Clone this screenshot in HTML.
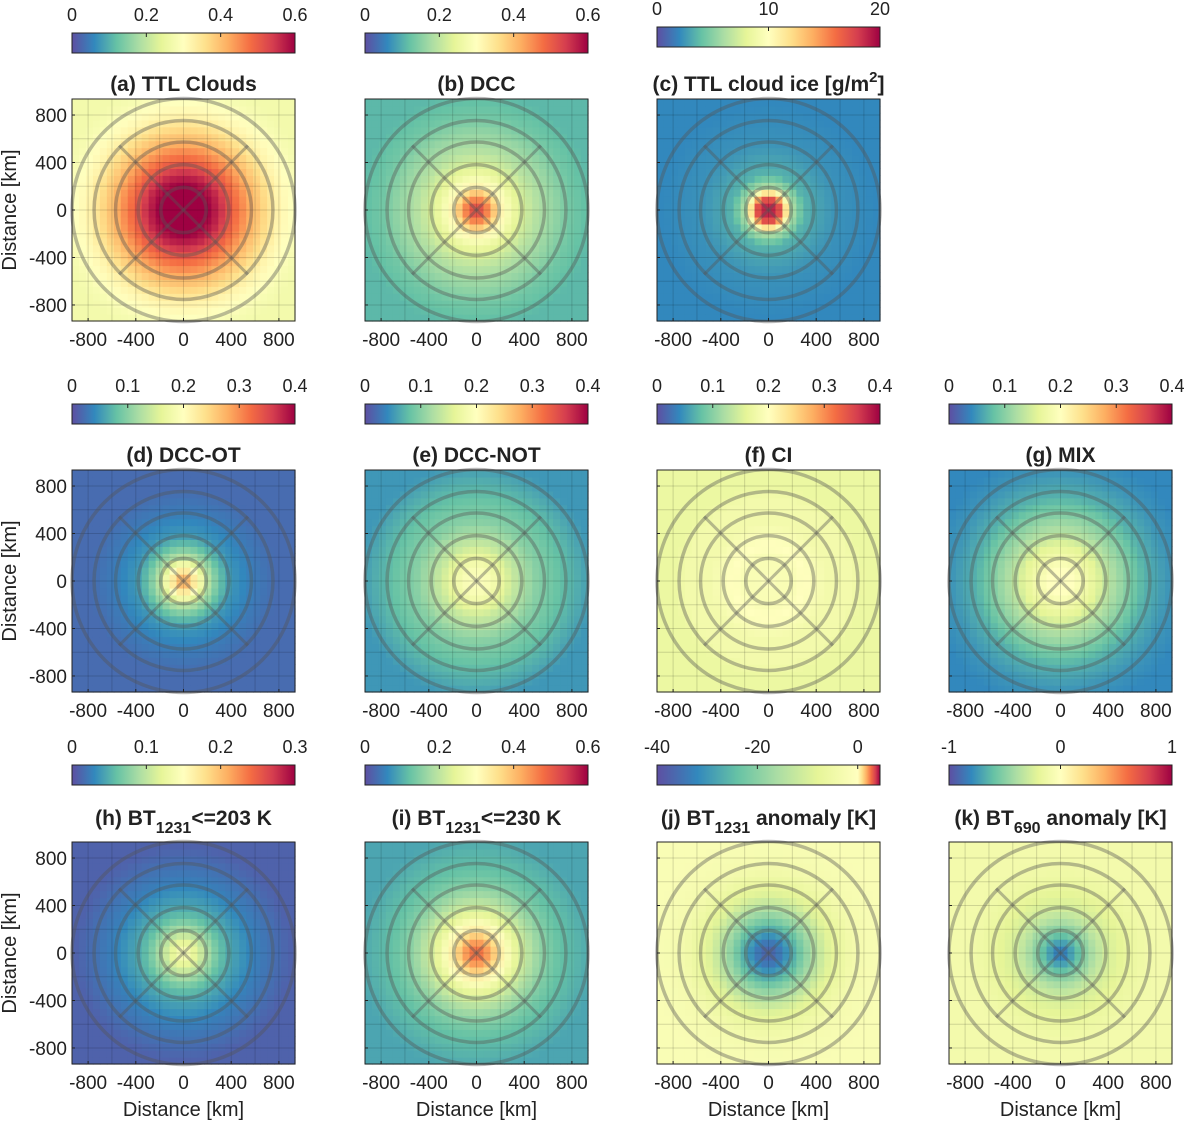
<!DOCTYPE html>
<html><head><meta charset="utf-8"><style>
body{margin:0;background:#fff}
svg text{font-family:"Liberation Sans",sans-serif;fill:#222}
</style></head><body>
<svg id="fig" width="1184" height="1122" viewBox="0 0 1184 1122" xmlns="http://www.w3.org/2000/svg">
<defs>
<linearGradient id="spec" x1="0" x2="1" y1="0" y2="0">
<stop offset="0" stop-color="#5e4fa2"/><stop offset="0.1" stop-color="#3288bd"/><stop offset="0.2" stop-color="#66c2a5"/><stop offset="0.3" stop-color="#abdda4"/><stop offset="0.4" stop-color="#e6f598"/><stop offset="0.5" stop-color="#ffffbf"/><stop offset="0.6" stop-color="#fee08b"/><stop offset="0.7" stop-color="#fdae61"/><stop offset="0.8" stop-color="#f46d43"/><stop offset="0.9" stop-color="#d53e4f"/><stop offset="1" stop-color="#9e0142"/>
</linearGradient>
<linearGradient id="specj" x1="0" x2="1" y1="0" y2="0">
<stop offset="0" stop-color="#5e4fa2"/><stop offset="0.18" stop-color="#3288bd"/><stop offset="0.36" stop-color="#66c2a5"/><stop offset="0.54" stop-color="#abdda4"/><stop offset="0.72" stop-color="#e6f598"/><stop offset="0.9" stop-color="#ffffbf"/><stop offset="0.92" stop-color="#fee08b"/><stop offset="0.94" stop-color="#fdae61"/><stop offset="0.96" stop-color="#f46d43"/><stop offset="0.98" stop-color="#d53e4f"/><stop offset="1" stop-color="#9e0142"/>
</linearGradient>
</defs>
</svg>
<script>
// radial bins (km)
const radii=[0,100,200,300,400,500,600,700,800,900,1000,1100,1300];
const titles=["(a) TTL Clouds","(b) DCC","(c) TTL cloud ice [g/m²]","(d) DCC-OT","(e) DCC-NOT","(f) CI","(g) MIX","(h) BT1231<=203 K","(i) BT1231<=230 K","(j) BT1231 anomaly [K]","(k) BT690 anomaly [K]"];
const profA=[0.62,0.62,0.6,0.56,0.5,0.45,0.4,0.36,0.32,0.3,0.28,0.27,0.27];
const profB=[0.55,0.45,0.32,0.26,0.22,0.19,0.17,0.15,0.13,0.12,0.11,0.11,0.11];
const profC=[20,17,6,3.5,3,2.6,2.3,2.2,2.1,2,2,2,2];
const profD=[0.3,0.22,0.13,0.08,0.05,0.04,0.03,0.025,0.02,0.02,0.02,0.02,0.02];
const profE=[0.2,0.19,0.17,0.14,0.12,0.1,0.09,0.08,0.07,0.06,0.05,0.05,0.05];
const profF=[0.2,0.19,0.19,0.2,0.19,0.18,0.18,0.18,0.17,0.17,0.17,0.17,0.17];
const profG=[0.2,0.2,0.18,0.16,0.13,0.11,0.09,0.07,0.06,0.05,0.045,0.04,0.04];
const profH=[0.15,0.12,0.09,0.06,0.045,0.035,0.025,0.02,0.015,0.01,0.01,0.01,0.01];
const profI=[0.5,0.43,0.33,0.26,0.21,0.17,0.14,0.12,0.11,0.1,0.09,0.09,0.09];
const profJ=[-38,-34,-27,-20,-14,-9,-6,-4,-3,-2.5,-2,-2,-2];
const profK=[-0.9,-0.7,-0.5,-0.35,-0.25,-0.2,-0.15,-0.12,-0.1,-0.1,-0.1,-0.1,-0.1];
const profiles=[profA,profB,profC,profD,profE,profF,profG,profH,profI,profJ,profK];
const cmin=[0,0,0,0,0,0,0,0,0,-40,-1];
const cmax=[0.6,0.6,20,0.4,0.4,0.4,0.4,0.3,0.6,4,1];
const cbTicks=[["0","0.2","0.4","0.6"],["0","0.2","0.4","0.6"],["0","10","20"],["0","0.1","0.2","0.3","0.4"],["0","0.1","0.2","0.3","0.4"],["0","0.1","0.2","0.3","0.4"],["0","0.1","0.2","0.3","0.4"],["0","0.1","0.2","0.3"],["0","0.2","0.4","0.6"],["-40","-20","0"],["-1","0","1"]];
const axisTicks=[-800,-400,0,400,800];
const ringKm=[190,380,570,750,935];

const stops=["#5e4fa2","#3288bd","#66c2a5","#abdda4","#e6f598","#ffffbf","#fee08b","#fdae61","#f46d43","#d53e4f","#9e0142"];
function hex(h){return [parseInt(h.slice(1,3),16),parseInt(h.slice(3,5),16),parseInt(h.slice(5,7),16)];}
function cmap(t){t=Math.max(0,Math.min(1,t));const f=t*10,i=Math.min(9,Math.floor(f)),u=f-i;const a=hex(stops[i]),b=hex(stops[i+1]);return `rgb(${a.map((v,k)=>Math.round(v+(b[k]-v)*u)).join(',')})`;}
function interp(p,r){for(let i=0;i<radii.length-1;i++){if(r<=radii[i+1]){const u=(r-radii[i])/(radii[i+1]-radii[i]);return p[i]+(p[i+1]-p[i])*u;}}return p[p.length-1];}
function norm(k,v){if(k===9){return v<=0?(v+40)/40*0.5:0.5+v/4*0.5;}return (v-cmin[k])/(cmax[k]-cmin[k]);}
function barPos(k,v){if(k===9){return v<=0?(v+40)/40*0.9:0.9+v/4*0.1;}return (v-cmin[k])/(cmax[k]-cmin[k]);}

const cols=[72,365,657,949], rows=[99,470,842], W=223, H=222;
const cbY=[33,404,765];
const svg=document.getElementById('fig');
const NS="http://www.w3.org/2000/svg";
function mk(tag,at,parent){const e=document.createElementNS(NS,tag);for(const k in at)e.setAttribute(k,at[k]);(parent||svg).appendChild(e);return e;}
const half=935;
const layout=[[0,0],[0,1],[0,2],[1,0],[1,1],[1,2],[1,3],[2,0],[2,1],[2,2],[2,3]];
const N=32;
layout.forEach(([r,c],k)=>{
  const x0=cols[c], y0=rows[r];
  const g=mk('g',{});
  
  
  const sx=v=>x0+(v+half)/(2*half)*W, sy=v=>y0+(half-v)/(2*half)*H;
  const hm=mk('g',{},g);
  
  
  const cs=2*half/N;
  for(let i=0;i<N;i++)for(let j=0;j<N;j++){
    const cx=-half+(i+0.5)*cs, cy=-half+(j+0.5)*cs;
    const rr=Math.hypot(cx,cy);
    const v=interp(profiles[k],rr);
    const rc=mk('rect',{x:sx(cx-cs/2).toFixed(2),y:sy(cy+cs/2).toFixed(2),width:(W/N+0.6).toFixed(2),height:(H/N+0.6).toFixed(2),fill:cmap(norm(k,v))},hm);
    
    
  }
  for(let v=-800;v<=800;v+=200){mk('line',{x1:sx(v),x2:sx(v),y1:y0,y2:y0+H,stroke:'#000','stroke-opacity':0.15,'stroke-width':1},g);mk('line',{y1:sy(v),y2:sy(v),x1:x0,x2:x0+W,stroke:'#000','stroke-opacity':0.15,'stroke-width':1},g);}
  const cxp=sx(0), cyp=sy(0), sc=W/(2*half);
  ringKm.forEach(rk=>mk('circle',{cx:cxp,cy:cyp,r:rk*sc,fill:'none',stroke:'#555','stroke-opacity':0.4,'stroke-width':3.5},g));
  const d=750*sc*0.72;
  mk('line',{x1:cxp-d,y1:cyp-d,x2:cxp+d,y2:cyp+d,stroke:'#555','stroke-opacity':0.4,'stroke-width':3},g);
  mk('line',{x1:cxp-d,y1:cyp+d,x2:cxp+d,y2:cyp-d,stroke:'#555','stroke-opacity':0.4,'stroke-width':3},g);
  mk('rect',{x:x0,y:y0,width:W,height:H,fill:'none',stroke:'#222','stroke-width':1},g);
  axisTicks.forEach(v=>{
    mk('line',{x1:sx(v),x2:sx(v),y1:y0+H,y2:y0+H-3,stroke:'#222'},g);
    const t=mk('text',{x:sx(v),y:y0+H+25,'text-anchor':'middle','font-size':19},g);t.textContent=String(v);
    mk('line',{x1:x0,x2:x0+3,y1:sy(v),y2:sy(v),stroke:'#222'},g);
    if(c===0){const t2=mk('text',{x:x0-5,y:sy(v)+7,'text-anchor':'end','font-size':19},g);t2.textContent=String(v);}
  });
  if(c===0){const yl=mk('text',{x:0,y:0,'text-anchor':'middle','font-size':20,transform:`translate(${x0-56},${y0+H/2}) rotate(-90)`},g);yl.textContent='Distance [km]';}
  if(r===2){const xl=mk('text',{x:x0+W/2,y:y0+H+52,'text-anchor':'middle','font-size':20},g);xl.textContent='Distance [km]';}
  const tt=mk('text',{x:x0+W/2,y:y0-(r===2?17:8),'text-anchor':'middle','font-size':21,'font-weight':'bold'},g);
  
  
  const ttl=titles[k];
  const m=ttl.match(/^(.*BT)(1231|690)(.*)$/);
  if(m){tt.textContent=m[1];const s=mk('tspan',{dy:8,'font-size':16},tt);s.textContent=m[2];const s2=mk('tspan',{dy:-8},tt);s2.textContent=m[3];}
  else if(k===2){tt.textContent='(c) TTL cloud ice [g/m';const s=mk('tspan',{dy:-9,'font-size':15},tt);s.textContent='2';const s2=mk('tspan',{dy:9},tt);s2.textContent=']';}
  else tt.textContent=ttl;
  const cy=(k===2)?27:cbY[r];
  const cb=mk('rect',{x:x0,y:cy,width:W,height:20,fill:k===9?'url(#specj)':'url(#spec)',stroke:'#222','stroke-width':1},g);
  
  
  cbTicks[k].forEach(s=>{
    const v=parseFloat(s);
    const px=x0+barPos(k,v)*W;
    mk('line',{x1:px,x2:px,y1:cy,y2:cy+4,stroke:'#222'},g);
    const t=mk('text',{x:px,y:cy-12,'text-anchor':'middle','font-size':18},g);t.textContent=s;
  });
});
</script>
</body></html>
